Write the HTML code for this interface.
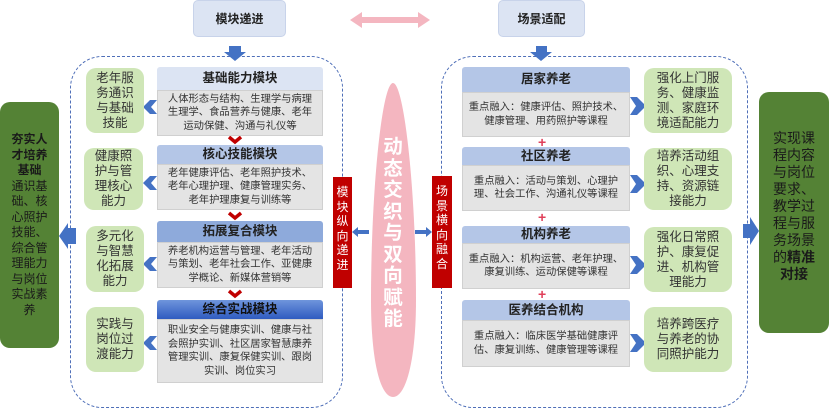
<!DOCTYPE html>
<html><head><meta charset="utf-8"><style>
body{margin:0;width:830px;height:411px;background:#fff;position:relative;overflow:hidden;font-family:"Liberation Sans","Noto Sans CJK SC",sans-serif;color:#222}
div{position:absolute;box-sizing:border-box}
.top{background:#dce4f3;border:1px solid #c8d3ea;border-radius:5px;font-weight:bold;font-size:12px;text-align:center;line-height:36px}
.cont{border:1.3px dashed #4f6fb8;border-radius:32px}
.hd{background:#b4c6e7;font-weight:bold;font-size:12.5px;text-align:center;border-radius:3px 3px 0 0}
.bd{background:#e4e4e4;border:1px solid #d0d0d0;font-size:10.3px;line-height:13.5px;text-align:center;display:flex;align-items:center;justify-content:center;color:#333;white-space:nowrap}
.gb{background:#cfe6b7;border-radius:10px;font-size:12.5px;line-height:15px;text-align:center;display:flex;align-items:center;justify-content:center;color:#333}
.red{background:#c00000;color:#fff;font-size:12px;line-height:14.5px;text-align:center;padding-top:8px}
.big{background:#548235;border-radius:10px;text-align:center;color:#1a1a1a}
.plus{color:#e0405a;font-weight:bold;font-size:14px;line-height:10px}
</style></head><body>
<div class="top" style="left:193px;top:0;width:93px;height:37px">模块递进</div>
<div class="top" style="left:498px;top:0;width:87px;height:37px">场景适配</div>

<div class="cont" style="left:70px;top:56px;width:273px;height:352px"></div>
<div class="cont" style="left:441px;top:56px;width:307px;height:352px"></div>

<svg width="830" height="411" style="position:absolute;left:0;top:0">
<polygon points="350,20 362,12 362,17 418,17 418,12 430,20 418,28 418,23 362,23 362,28" fill="#f4b6c0"/>
<polygon points="229,46 241,46 241,52 246,52 235,61 224,52 229,52" fill="#4472c4"/>
<polygon points="536,46 547,46 547,52 552,52 541,61 530,52 536,52" fill="#4472c4"/>
<path d="M393,83 C404,83 416,190 416,300 C416,360 406,397 393,397 C380,397 371,360 371,300 C371,190 382,83 393,83Z" fill="#f4b6c0"/>
<polygon points="369,230 358,230 358,227 352,232 358,237 358,234 369,234" fill="#4472c4"/>
<polygon points="415,230 426,230 426,227 432,232 426,237 426,234 415,234" fill="#4472c4"/>
<polygon points="76,228 68,228 68,223 59,236 68,249 68,244 76,244" fill="#4472c4"/>
<polygon points="743,224 750,224 750,217 759,231 750,245 750,238 743,238" fill="#4472c4"/>
<g fill="#4472c4">
<polygon points="157,100 150,100 143,107 150,114 157,114 151,107"/>
<polygon points="157,176 150,176 143,183 150,190 157,190 151,183"/>
<polygon points="157,257 150,257 143,264 150,271 157,271 151,264"/>
<polygon points="157,336 150,336 143,343 150,350 157,350 151,343"/>
<polygon points="630,97 637,97 646,106 637,115 630,115 636,106"/>
<polygon points="630,175 637,175 646,184 637,193 630,193 636,184"/>
<polygon points="630,256 637,256 646,265 637,274 630,274 636,265"/>
<polygon points="630,334 637,334 646,343 637,352 630,352 636,343"/>
</g>
<g fill="none" stroke="#c00000" stroke-width="3.5">
<polyline points="229,137 235,142 241,137"/>
<polyline points="229,213 235,218 241,213"/>
<polyline points="229,291 235,296 241,291"/>
</g>
</svg>

<div style="left:379px;top:137px;width:28px;font-size:19.5px;line-height:21.5px;font-weight:bold;color:#fff;text-align:center">动态交织与双向赋能</div>

<div class="red" style="left:333px;top:177px;width:19px;height:111px">模块纵向递进</div>
<div class="red" style="left:432px;top:176px;width:20px;height:112px">场景横向融合</div>

<div class="hd" style="left:157px;top:67px;width:166px;height:23px;line-height:23px;background:#dce4f3">基础能力模块</div>
<div class="bd" style="left:157px;top:90px;width:166px;height:46px">人体形态与结构、生理学与病理<br>生理学、食品营养与健康、老年<br>运动保健、沟通与礼仪等</div>
<div class="hd" style="left:157px;top:145px;width:166px;height:19px;line-height:19px;background:#b4c6e7">核心技能模块</div>
<div class="bd" style="left:157px;top:164px;width:166px;height:46px">老年健康评估、老年照护技术、<br>老年心理护理、健康管理实务、<br>老年护理康复与训练等</div>
<div class="hd" style="left:157px;top:221px;width:166px;height:21px;line-height:21px;background:#8eaadb">拓展复合模块</div>
<div class="bd" style="left:157px;top:242px;width:166px;height:46px">养老机构运营与管理、老年活动<br>与策划、老年社会工作、亚健康<br>学概论、新媒体营销等</div>
<div class="hd" style="left:157px;top:300px;width:166px;height:19px;line-height:19px;background:linear-gradient(#6f95dc,#2f5bc0);color:#111">综合实战模块</div>
<div class="bd" style="left:157px;top:319px;width:166px;height:64px">职业安全与健康实训、健康与社<br>会照护实训、社区居家智慧康养<br>管理实训、康复保健实训、跟岗<br>实训、岗位实习</div>

<div class="gb" style="left:86px;top:68px;width:58px;height:65px">老年服<br>务通识<br>与基础<br>技能</div>
<div class="gb" style="left:84px;top:148px;width:59px;height:62px">健康照<br>护与管<br>理核心<br>能力</div>
<div class="gb" style="left:86px;top:226px;width:58px;height:66px">多元化<br>与智慧<br>化拓展<br>能力</div>
<div class="gb" style="left:86px;top:307px;width:58px;height:65px">实践与<br>岗位过<br>渡能力</div>

<div class="hd" style="left:462px;top:67px;width:168px;height:25px;line-height:25px">居家养老</div>
<div class="bd" style="left:462px;top:92px;width:168px;height:45px">重点融入：健康评估、照护技术、<br>健康管理、用药照护等课程</div>
<div class="hd" style="left:462px;top:147px;width:168px;height:18px;line-height:18px">社区养老</div>
<div class="bd" style="left:462px;top:165px;width:168px;height:46px">重点融入：活动与策划、心理护<br>理、社会工作、沟通礼仪等课程</div>
<div class="hd" style="left:462px;top:226px;width:168px;height:17px;line-height:17px">机构养老</div>
<div class="bd" style="left:462px;top:243px;width:168px;height:46px">重点融入：机构运营、老年护理、<br>康复训练、运动保健等课程</div>
<div class="hd" style="left:462px;top:300px;width:168px;height:20px;line-height:20px">医养结合机构</div>
<div class="bd" style="left:462px;top:320px;width:168px;height:47px">重点融入：临床医学基础健康评<br>估、康复训练、健康管理等课程</div>
<div class="plus" style="left:538px;top:137px">+</div>
<div class="plus" style="left:538px;top:212px">+</div>
<div class="plus" style="left:538px;top:289px">+</div>

<div class="gb" style="left:644px;top:68px;width:88px;height:65px">强化上门服<br>务、健康监<br>测、家庭环<br>境适配能力</div>
<div class="gb" style="left:644px;top:148px;width:88px;height:62px">培养活动组<br>织、心理支<br>持、资源链<br>接能力</div>
<div class="gb" style="left:644px;top:227px;width:88px;height:65px">强化日常照<br>护、康复促<br>进、机构管<br>理能力</div>
<div class="gb" style="left:644px;top:307px;width:88px;height:65px">培养跨医疗<br>与养老的协<br>同照护能力</div>

<div class="big" style="left:0;top:102px;width:59px;height:246px;padding-top:30px;font-size:12px;line-height:15.5px"><b>夯实人<br>才培养<br>基础</b><br>通识基<br>础、核<br>心照护<br>技能、<br>综合管<br>理能力<br>与岗位<br>实战素<br>养</div>
<div class="big" style="left:759px;top:92px;width:70px;height:241px;padding-top:38px;font-size:14px;line-height:17px">实现课<br>程内容<br>与岗位<br>要求、<br>教学过<br>程与服<br>务场景<br>的<b>精准<br>对接</b></div>
</body></html>
